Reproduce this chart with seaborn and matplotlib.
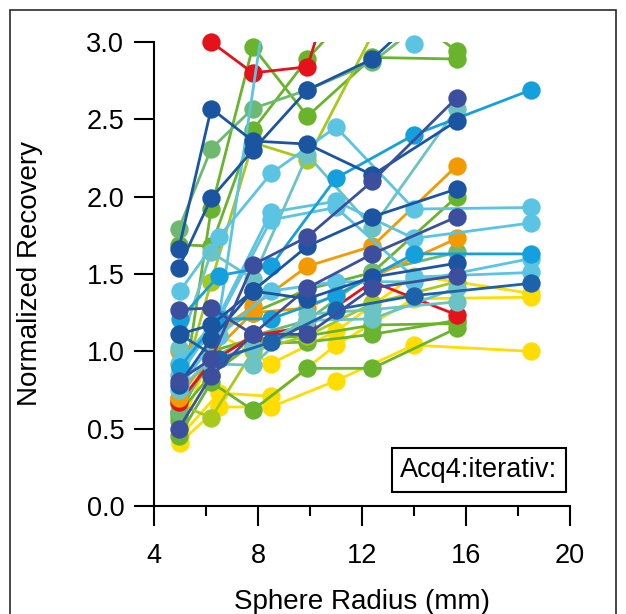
import numpy as np
import pandas as pd
import matplotlib
matplotlib.use("Agg")
import matplotlib.pyplot as plt
import seaborn as sns
from matplotlib.patches import Rectangle

nan = np.nan

# Sphere radii (mm) of the two phantoms
jaszczak_radius = [4.95, 6.2, 7.8, 9.9, 12.4, 15.65]
nema_radius = [5.0, 6.5, 8.5, 11.0, 14.0, 18.5]

# Recovery curves measured in the Jaszczak phantom
jaszczak_recovery = [
    [nan, 3.00, 2.80, 2.84, 4.20, nan],
    [0.67, 0.93, 1.10, 1.16, 1.45, 1.235],
    [1.69, 1.68, 2.43, 2.89, 3.35, 2.94],
    [0.55, 1.92, 2.97, 2.52, 2.90, 2.89],
    [0.45, 0.80, 0.62, 0.89, 0.89, 1.15],
    [0.60, 0.85, 1.05, 1.06, 1.11, 1.20],
    [0.92, 1.10, 1.25, 1.40, 1.51, 2.00],
    [0.58, 1.00, 1.08, 1.10, 1.17, 1.18],
    [1.79, 2.31, 2.57, 2.69, 2.87, 3.30],
    [0.61, 0.95, 1.10, 1.20, 1.51, 1.64],
    [0.70, 1.45, 2.35, 2.24, 3.05, nan],
    [0.66, 0.57, 1.00, 1.10, 1.31, 1.45],
    [1.00, 1.10, 1.29, 1.55, 1.68, 2.20],
    [0.70, 0.98, 1.25, 1.28, 1.48, 1.73],
    [1.02, 1.64, 1.47, 2.27, 1.80, 2.57],
    [0.85, 0.92, 0.91, 1.24, 1.27, 1.32],
    [0.75, 0.95, 1.02, 1.20, 1.21, 1.41],
    [1.66, 2.57, 2.36, 2.34, 2.14, 2.49],
    [1.54, 1.99, 2.30, 2.69, 2.89, 3.40],
    [1.11, 1.17, 1.39, 1.68, 1.87, 2.05],
    [0.78, 1.08, 1.39, 1.34, 1.48, 1.57],
    [0.81, 0.95, 1.56, 1.74, 2.10, 2.64],
    [1.27, 1.28, 1.11, 1.41, 1.63, 1.87],
    [0.50, 0.84, 1.11, 1.11, 1.41, 1.49],
]
jaszczak_colour = [
    "red", "red",
    "green", "green", "green", "green", "green", "green",
    "lgreen", "lgreen",
    "ygreen", "ygreen",
    "orange", "orange",
    "teal", "teal", "teal",
    "dblue", "dblue", "dblue", "dblue",
    "indigo", "indigo", "indigo",
]

# Recovery curves measured in the NEMA phantom
nema_recovery = [
    [1.21, 1.49, 1.55, 2.12, 2.40, 2.69],
    [1.39, 1.74, 2.15, 2.45, 1.92, 1.93],
    [0.93, 1.23, 1.90, 1.97, 1.73, 1.83],
    [0.88, 1.21, 1.85, 1.93, 1.48, 1.51],
    [0.78, 1.10, 1.39, 1.45, 1.45, 1.60],
    [0.90, 1.21, 1.21, 1.36, 1.63, 1.63],
    [1.11, 0.95, 1.06, 1.27, 1.36, 1.44],
    [0.50, 1.11, 0.92, 1.13, 1.49, 1.375],
    [0.45, 0.73, 0.71, 1.04, 1.34, 1.35],
    [0.41, 0.64, 0.64, 0.81, 1.04, 1.00],
    [0.85, 1.22, 3.47, 3.50, 2.99, nan],
]
nema_colour = [
    "cyan", "lblue", "lblue", "lblue", "lblue", "cyan",
    "mblue", "yellow", "yellow", "yellow", "lblue",
]

palette = {
    "red": "#E3121B",
    "green": "#6AB42D",
    "lgreen": "#6DB970",
    "ygreen": "#A8C81A",
    "yellow": "#FFDD00",
    "orange": "#F39A00",
    "lblue": "#5BC4E3",
    "cyan": "#13A0DC",
    "teal": "#6CC3C3",
    "dblue": "#1B55A1",
    "mblue": "#1D63AC",
    "indigo": "#3C4F9F",
}
layer_order = ["yellow", "green", "ygreen", "lgreen", "red", "orange",
               "teal", "lblue", "cyan", "mblue", "dblue", "indigo"]

rows = []
for phantom, radii, curves, colours in (
    ("J", jaszczak_radius, jaszczak_recovery, jaszczak_colour),
    ("N", nema_radius, nema_recovery, nema_colour),
):
    for k, (vals, col) in enumerate(zip(curves, colours)):
        for r, v in zip(radii, vals):
            rows.append({"series": f"{phantom}{k}", "colour": col,
                         "radius": r, "recovery": v})
df = pd.DataFrame(rows).dropna()

series_colour = df.groupby("series")["colour"].first()
series_order = sorted(series_colour.index,
                      key=lambda s: layer_order.index(series_colour[s]))

sns.set_style("white")
plt.rcParams["font.family"] = ["Liberation Sans", "DejaVu Sans"]

fig = plt.figure(figsize=(6.26, 6.14), dpi=100)
ax = fig.add_axes([154 / 626, 108 / 614, 416 / 626, 464 / 614])

for z, s in enumerate(series_order):
    sub = df[df["series"] == s]
    c = palette[series_colour[s]]
    sns.lineplot(data=sub, x="radius", y="recovery", color=c, lw=2.0,
                 estimator=None, sort=False, ax=ax, zorder=3 + 2 * z)
    vis = sub[sub["recovery"] <= 3.0]
    sns.scatterplot(data=vis, x="radius", y="recovery", color=c, s=175,
                    linewidth=0, ax=ax, zorder=4 + 2 * z, clip_on=False)

ax.set_xlim(4, 20)
ax.set_ylim(0, 3.0)
ax.set_xticks([4, 8, 12, 16, 20])
ax.set_xticks([6, 10, 14, 18], minor=True)
ax.set_yticks([0, 0.5, 1.0, 1.5, 2.0, 2.5, 3.0])
ax.set_yticklabels(["0.0", "0.5", "1.0", "1.5", "2.0", "2.5", "3.0"])

for side in ("top", "right"):
    ax.spines[side].set_visible(False)
for side in ("left", "bottom"):
    ax.spines[side].set_color("black")
    ax.spines[side].set_linewidth(1.5)

ax.tick_params(axis="x", which="major", direction="out", length=14.4,
               width=1.5, pad=12, labelsize=19.5, colors="black", bottom=True)
ax.tick_params(axis="x", which="minor", direction="out", length=7.2,
               width=1.5, bottom=True, color="black")
ax.tick_params(axis="y", which="major", direction="out", length=14.4,
               width=1.5, pad=7, labelsize=19.5, colors="black", left=True)

ax.set_xlabel("Sphere Radius (mm)", fontsize=20, color="black")
ax.set_ylabel("Normalized Recovery", fontsize=20, color="black")
ax.xaxis.set_label_coords(0.5, -0.178)
ax.yaxis.set_label_coords(-0.266, 0.5)

# Annotation box in the lower right corner
ax.add_patch(Rectangle((13.15, 0.09), 6.7, 0.285, fill=True, fc="white",
                       ec="black", lw=1.5, zorder=200))
ax.text(16.5, 0.232, "Acq4:iterativ:", fontsize=19.5, ha="center",
        va="center", color="black", zorder=201)

# Outer frame of the graph window
fig.add_artist(Rectangle((10 / 626, -0.05), 606 / 626, 1 - 10 / 614 + 0.05,
                         transform=fig.transFigure, fill=False,
                         ec="#2a2a2a", lw=1.2))

fig.savefig("out.png", dpi=100)
